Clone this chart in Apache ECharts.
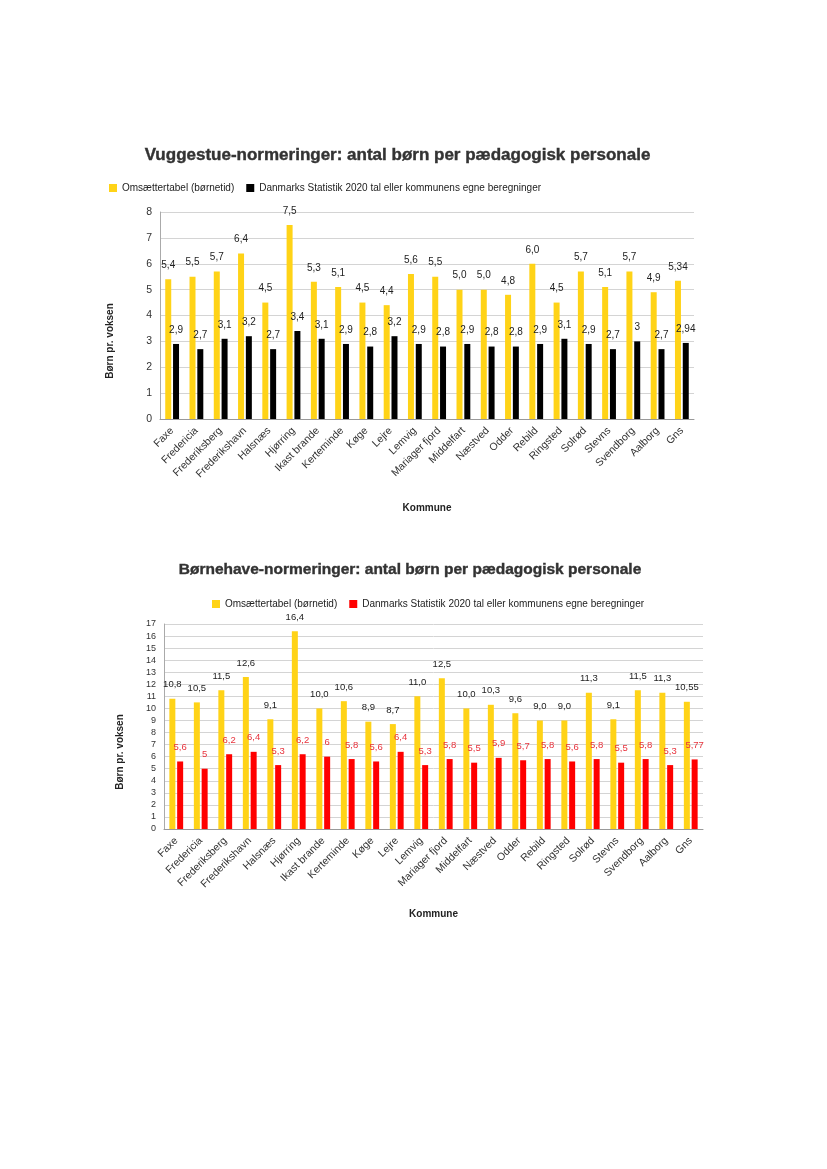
<!DOCTYPE html>
<html>
<head>
<meta charset="utf-8">
<script src="https://cdn.jsdelivr.net/npm/echarts@6/dist/echarts.min.js"></script>
<style>
html,body{margin:0;padding:0;background:#fff;}
#c1{position:absolute;left:0;top:0;width:827px;height:540px;}
#c2{position:absolute;left:0;top:540px;width:827px;height:629px;}
</style>
</head>
<body>
<div id="c1"></div>
<div id="c2"></div>
<script>
const categories = ['Faxe','Fredericia','Frederiksberg','Frederikshavn','Halsnæs','Hjørring','Ikast brande','Kerteminde','Køge','Lejre','Lemvig','Mariager fjord','Middelfart','Næstved','Odder','Rebild','Ringsted','Solrød','Stevns','Svendborg','Aalborg','Gns'];
const seriesNameA = 'Omsættertabel (børnetid)';
const seriesNameB = 'Danmarks Statistik 2020 tal eller kommunens egne beregninger';
const titleTop = 'Vuggestue-normeringer: antal børn per pædagogisk personale';
const titleBottom = 'Børnehave-normeringer: antal børn per pædagogisk personale';
const yName = 'Børn pr. voksen';
const xName = 'Kommune';

const vuggeOmsaet = [5.4,5.5,5.7,6.4,4.5,7.5,5.3,5.1,4.5,4.4,5.6,5.5,5.0,5.0,4.8,6.0,4.5,5.7,5.1,5.7,4.9,5.34];
const vuggeDST    = [2.9,2.7,3.1,3.2,2.7,3.4,3.1,2.9,2.8,3.2,2.9,2.8,2.9,2.8,2.8,2.9,3.1,2.9,2.7,3,2.7,2.94];
const boernOmsaet = [10.8,10.5,11.5,12.6,9.1,16.4,10.0,10.6,8.9,8.7,11.0,12.5,10.0,10.3,9.6,9.0,9.0,11.3,9.1,11.5,11.3,10.55];
const boernDST    = [5.6,5,6.2,6.4,5.3,6.2,6,5.8,5.6,6.4,5.3,5.8,5.5,5.9,5.7,5.8,5.6,5.8,5.5,5.8,5.3,5.77];

const topTicks = {min:0, max:8, interval:1};
const bottomTicks = {min:0, max:17, interval:1};

const FONT = "'Liberation Sans', Arial, sans-serif";
const YELLOW = '#FFD317';

function fmtOneDec(p){
  const v = p.value;
  const t = Math.abs(v*10 - Math.round(v*10)) < 1e-9 ? v.toFixed(1) : String(v);
  return t.replace('.', ',');
}
function fmtPlain(p){ return String(p.value).replace('.', ','); }

function build(cfg){
  return {
    animation:false,
    textStyle:{fontFamily:FONT},
    legend:{
      left:cfg.legendLeft, top:cfg.legendTop,
      itemWidth:8, itemHeight:8, itemGap:12,
      icon:'rect',
      textStyle:{fontFamily:FONT, fontSize:10, color:'#222'},
      data:[seriesNameA, seriesNameB]
    },
    graphic:[
      {type:'text', x:cfg.titleX, y:cfg.titleY, style:{text:cfg.title, textAlign:'center', textVerticalAlign:'middle', font:'bold '+cfg.titleSize+'px '+FONT, fill:'#333', stroke:'#333', lineWidth:0.4}},
      {type:'text', x:cfg.yNameX, y:cfg.yNameY, rotation:Math.PI/2, style:{text:yName, textAlign:'center', textVerticalAlign:'middle', font:'bold 10px '+FONT, fill:'#222'}}
    ],
    grid:{left:cfg.gridLeft, right:827-cfg.gridRight, top:cfg.gridTop, bottom:cfg.gridBottom, containLabel:false},
    xAxis:{
      type:'category', data:categories,
      name:xName, nameLocation:'middle', nameGap:cfg.xNameGap,
      nameTextStyle:{fontFamily:FONT, fontWeight:'bold', fontSize:10, color:'#222'},
      axisLine:{show:true, lineStyle:{color:'#999'}},
      axisTick:{show:false},
      axisLabel:{rotate:45, fontSize:cfg.xLabelSize, color:'#333', margin:cfg.xLabelMargin, interval:0}
    },
    yAxis:{
      type:'value', min:cfg.ticks.min, max:cfg.ticks.max, interval:cfg.ticks.interval,
      axisLine:{show:true, lineStyle:{color:'#aaa'}},
      axisTick:{show:false},
      axisLabel:{fontSize:cfg.yLabelSize, color:'#333', margin:8},
      splitLine:{lineStyle:{color:'#d4d4d4'}}
    },
    series:[
      {name:seriesNameA, type:'bar', data:cfg.a, barWidth:6, barGap:'30%', itemStyle:{color:YELLOW},
       label:{show:true, position:'top', distance:9, fontSize:cfg.labelSize, color:'#222', formatter:fmtOneDec}},
      {name:seriesNameB, type:'bar', data:cfg.b, barWidth:6, itemStyle:{color:cfg.bColor},
       label:{show:true, position:'top', distance:9, fontSize:cfg.labelSize, color:cfg.bLabelColor, formatter:fmtPlain}}
    ]
  };
}

const c1 = echarts.init(document.getElementById('c1'), null, {renderer:'canvas'});
c1.setOption(build({
  title:titleTop, titleX:397.5, titleY:155, titleSize:17,
  legendLeft:104, legendTop:178,
  yNameX:110, yNameY:341,
  gridLeft:160, gridRight:694, gridTop:212, gridBottom:540-419,
  xNameGap:84, ticks:topTicks, yLabelSize:10.5, labelSize:10,
  xLabelSize:10.5, xLabelMargin:10,
  a:vuggeOmsaet, b:vuggeDST, bColor:'#000', bLabelColor:'#222'
}));

const c2 = echarts.init(document.getElementById('c2'), null, {renderer:'canvas'});
c2.setOption(build({
  title:titleBottom, titleX:410, titleY:570-540, titleSize:15.5,
  legendLeft:207, legendTop:54,
  yNameX:120, yNameY:752-540,
  gridLeft:164, gridRight:703, gridTop:624-540, gridBottom:629-(829-540),
  xNameGap:80, ticks:bottomTicks, yLabelSize:9, labelSize:9.5,
  xLabelSize:10.5, xLabelMargin:10,
  a:boernOmsaet, b:boernDST, bColor:'#FF0000', bLabelColor:'#E8323C'
}));
</script>
</body>
</html>
